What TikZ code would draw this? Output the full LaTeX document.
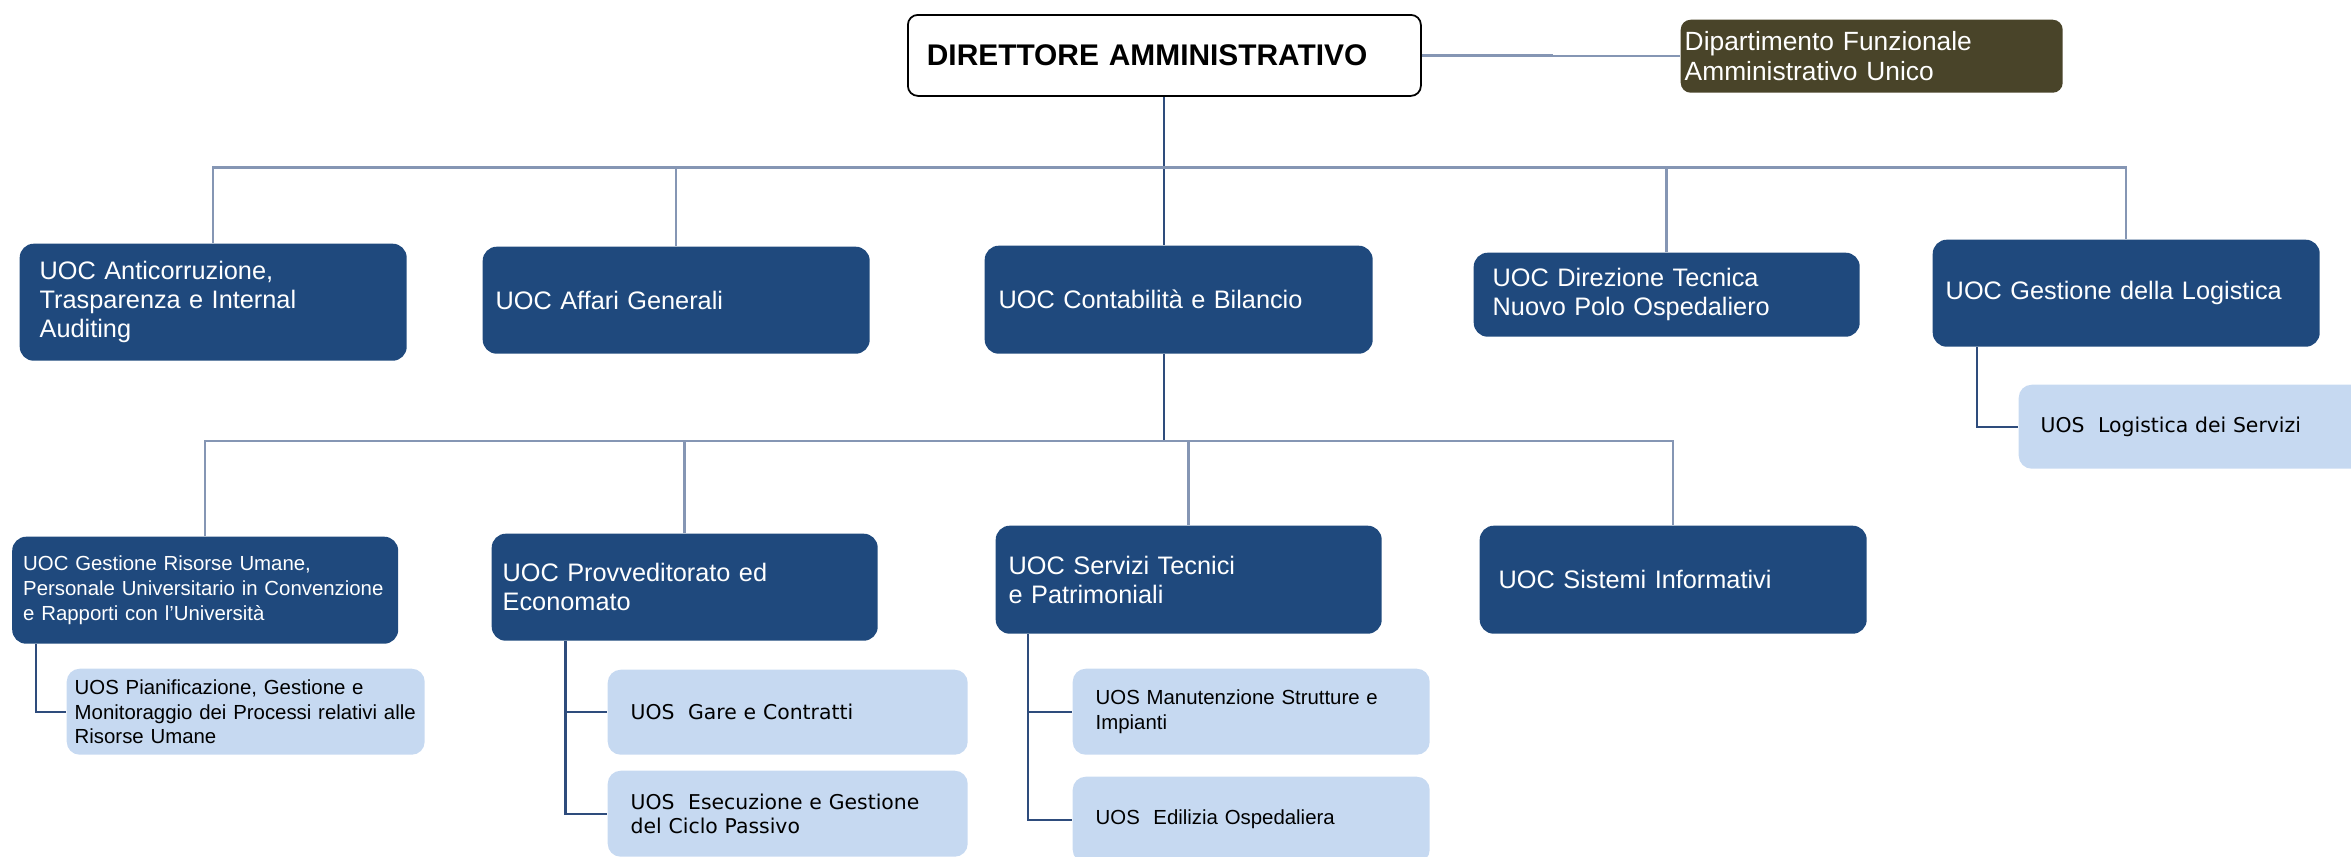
\documentclass[tikz,border=0pt]{standalone}
\usepackage{fontspec}
\setmainfont{Liberation Sans}
\newfontfamily\verd{DejaVu Sans}
\definecolor{uocblue}{HTML}{1F497D}
\definecolor{uoslight}{HTML}{C6D9F1}
\definecolor{olive}{HTML}{494429}
\definecolor{busgray}{HTML}{8596B4}
\definecolor{legblue}{HTML}{2E4C7C}

\begin{document}
\begin{tikzpicture}[x=0.1mm,y=-0.1mm,
  box/.style={anchor=north west,align=left,inner ysep=0pt},
  uoc/.style={box,fill=uocblue,text=white,rounded corners=1.4mm,font=\fontsize{7.2}{8.2}\selectfont},
  uos/.style={box,fill=uoslight,text=black,rounded corners=1.3mm,font=\fontsize{5.8}{7}\selectfont},
  bus/.style={draw=busgray,line width=0.7pt},
  leg/.style={draw=legblue,line width=0.6pt}]
\useasboundingbox (0,0) rectangle (2351,856);
\node[box,draw=black,line width=0.5pt,fill=white,rounded corners=1mm,minimum width=51.3mm,minimum height=8.1mm,inner xsep=1.9mm,text width=47.5mm,font=\bfseries\fontsize{8.5}{10}\selectfont] (dir) at (907,14) {DIRETTORE AMMINISTRATIVO};
\node[box,fill=olive,text=white,rounded corners=1mm,minimum width=38.2mm,minimum height=7.3mm,inner xsep=0.4mm,text width=37.4mm,font=\fontsize{7.5}{8.6}\selectfont] (dip) at (1680,19) {Dipartimento Funzionale\\Amministrativo Unico};

\node[uoc,minimum width=38.7mm,minimum height=11.7mm,inner xsep=2mm,text width=34.7mm] (anti) at (19,243) {UOC Anticorruzione,\\Trasparenza e Internal\\Auditing};
\node[uoc,minimum width=38.7mm,minimum height=10.7mm,inner xsep=1.3mm,text width=36.1mm] (affari) at (482,246) {UOC Affari Generali};
\node[uoc,minimum width=38.8mm,minimum height=10.8mm,inner xsep=1.4mm,text width=36mm] (cont) at (984,245) {UOC Contabilità e Bilancio};
\node[uoc,minimum width=38.6mm,minimum height=8.4mm,inner xsep=1.9mm,text width=34.8mm] (dirtec) at (1473,252) {UOC Direzione Tecnica\\Nuovo Polo Ospedaliero};
\node[uoc,minimum width=38.7mm,minimum height=10.7mm,inner xsep=1.3mm,text width=36.1mm] (logist) at (1932,239) {UOC Gestione della Logistica};
\node[uos,minimum width=36mm,minimum height=8.4mm,inner xsep=2.2mm,text width=31.6mm,font=\verd\fontsize{5.8}{7}\selectfont] (logserv) at (2018,384) {UOS~ Logistica dei Servizi};

\node[uoc,minimum width=38.6mm,minimum height=10.7mm,inner xsep=1.1mm,text width=36.4mm,font=\fontsize{5.8}{7}\selectfont] (rum) at (11.5,536) {UOC Gestione Risorse Umane,\\Personale Universitario in Convenzione\\e Rapporti con l’Università};
\node[uoc,minimum width=38.6mm,minimum height=10.7mm,inner xsep=1.1mm,text width=36.4mm] (provv) at (491,533) {UOC Provveditorato ed\\Economato};
\node[uoc,minimum width=38.6mm,minimum height=10.8mm,inner xsep=1.3mm,text width=36mm] (servt) at (995,525) {UOC Servizi Tecnici\\e Patrimoniali};
\node[uoc,minimum width=38.7mm,minimum height=10.8mm,inner xsep=1.9mm,text width=34.9mm] (sisinf) at (1479,525) {UOC Sistemi Informativi};

\node[uos,minimum width=35.8mm,minimum height=8.6mm,inner xsep=0.8mm,text width=34.2mm] (pian) at (66,668) {UOS Pianificazione, Gestione e\\Monitoraggio dei Processi relativi alle\\Risorse Umane};
\node[uos,minimum width=36mm,minimum height=8.5mm,inner xsep=2.3mm,text width=31.4mm,font=\verd\fontsize{5.8}{7}\selectfont] (gare) at (607,669) {UOS~ Gare e Contratti};
\node[uos,minimum width=36mm,minimum height=8.6mm,inner xsep=2.3mm,text width=31.4mm,font=\verd\fontsize{5.8}{7}\selectfont] (esec) at (607,770) {UOS~ Esecuzione e Gestione\\del Ciclo Passivo};
\node[uos,minimum width=35.7mm,minimum height=8.6mm,inner xsep=2.3mm,text width=31.1mm] (manut) at (1072,668) {UOS Manutenzione Strutture e\\Impianti};
\node[uos,minimum width=35.7mm,minimum height=8.6mm,inner xsep=2.3mm,text width=31.1mm] (edil) at (1072,776) {UOS~ Edilizia Ospedaliera};

\coordinate (bus1) at (0,167.5);
\coordinate (bus2) at (0,441);
\draw[bus] (dir.east) -- ++(130,0) |- (dip.west);
\draw[leg] (dir.south) -- (dir.south |- cont.north);
\draw[bus] (anti.north) |- (bus1 -| logist.north) -- (logist.north);
\draw[bus] (affari.north) -- (affari.north |- bus1);
\draw[bus] (dirtec.north) -- (dirtec.north |- bus1);
\draw[leg] (cont.south -| dir.south) -- (bus2 -| dir.south);
\draw[bus] (rum.north) |- (bus2 -| sisinf.north) -- (sisinf.north);
\draw[bus] (provv.north) -- (provv.north |- bus2);
\draw[bus] (servt.north) -- (servt.north |- bus2);
\draw[leg] (logist.south west) ++(45,0) |- (logserv.west);
\draw[leg] (rum.south west) ++(24.5,0) |- (pian.west);
\draw[leg] (provv.south west) ++(74.5,0) |- (gare.west);
\draw[leg] (provv.south west) ++(74.5,0) |- (esec.west);
\draw[leg] (servt.south west) ++(33,0) |- (manut.west);
\draw[leg] (servt.south west) ++(33,0) |- (edil.west);
\end{tikzpicture}
\end{document}
